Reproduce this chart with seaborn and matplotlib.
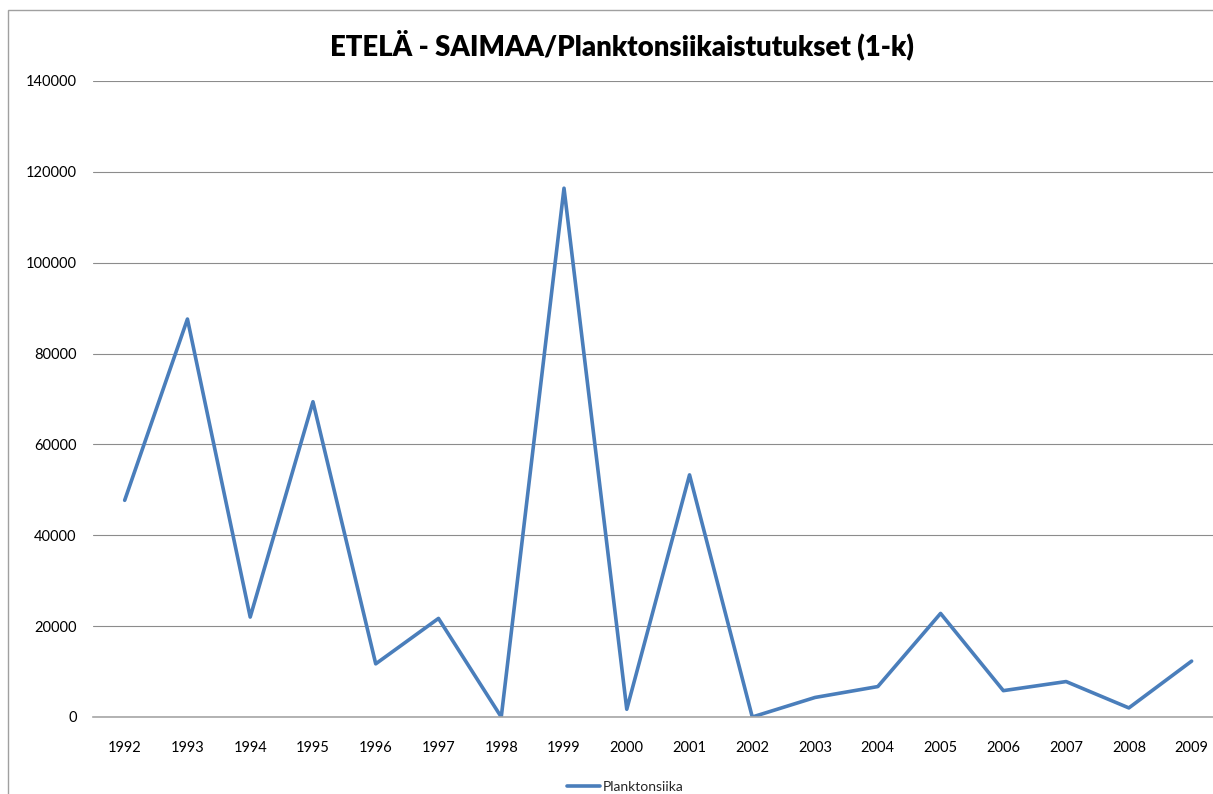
import matplotlib
matplotlib.use('Agg')
import matplotlib.pyplot as plt
import seaborn as sns
import pandas as pd
from matplotlib.patches import Rectangle

# Etelä-Saimaa plankton whitefish survey values
years = ['1992', '1993', '1994', '1995', '1996', '1997', '1998', '1999', '2000',
         '2001', '2002', '2003', '2004', '2005', '2006', '2007', '2008', '2009']
planktonsiika = [47700, 87600, 22000, 69400, 11700, 21700, 0, 116400, 1700,
                 53300, 0, 4300, 6700, 22800, 5800, 7800, 2000, 12300]
y_ticks = [0, 20000, 40000, 60000, 80000, 100000, 120000, 140000]

df = pd.DataFrame({'Vuosi': years, 'Planktonsiika': planktonsiika})

sns.set_style('white')
plt.rcParams['font.family'] = ['Lato', 'DejaVu Sans']

W, H = 1213, 794
fig = plt.figure(figsize=(W / 100, H / 100), dpi=100)
ax = fig.add_axes([93.3 / W, (H - 717) / H, (1223 - 93.3) / W, (717 - 81) / H])

sns.lineplot(data=df, x='Vuosi', y='Planktonsiika', ax=ax, color='#4a7ebb',
             linewidth=2.6, label='Planktonsiika', sort=False)

ax.set_xlim(-0.5, len(years) - 0.5)
ax.set_ylim(0, 140000)
ax.set_yticks(y_ticks)
ax.set_yticklabels([str(t) for t in y_ticks])
ax.grid(axis='y', color='#8c8c8c', linewidth=0.8)
ax.grid(axis='x', visible=False)
ax.set_axisbelow(True)
for s in ['left', 'right', 'top']:
    ax.spines[s].set_visible(False)
ax.spines['bottom'].set_color('#a6a6a6')
ax.spines['bottom'].set_linewidth(1.2)
ax.tick_params(axis='both', length=0, labelsize=10.5, colors='black')
ax.tick_params(axis='y', pad=12)
ax.tick_params(axis='x', pad=17)
ax.set_xlabel('')
ax.set_ylabel('')

fig.text(622 / W, 1 - 45 / H, 'ETELÄ - SAIMAA/Planktonsiikaistutukset (1-k)',
         ha='center', va='center', fontsize=19.8, fontweight='heavy', color='black')

leg = ax.legend(loc='center', bbox_to_anchor=(625 / W, 1 - 787 / H),
                bbox_transform=fig.transFigure, frameon=False, fontsize=10,
                handlelength=2.4, handletextpad=0.2)

# outer chart frame (cut off at the right and bottom in the reference)
fig.patches.append(Rectangle((7.5 / W, -0.1), 2, 1.1 - 10.5 / H,
                             transform=fig.transFigure, fill=False,
                             edgecolor='#a0a0a0', linewidth=1))

fig.savefig('out.png', dpi=100)
